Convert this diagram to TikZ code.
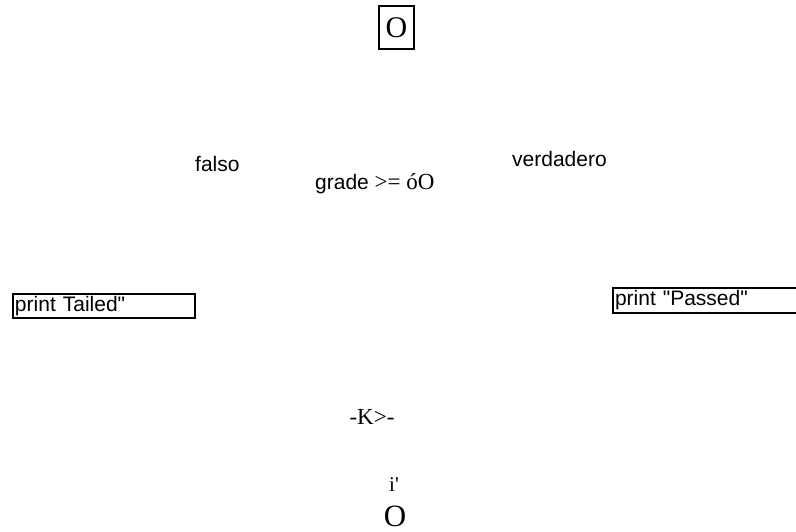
\documentclass[tikz,border=0pt]{standalone}
\usepackage{fontspec}
\setmainfont{Liberation Serif}
\newfontfamily\sansf{Liberation Sans}
\tikzset{
  x=1pt, y=-1pt,
  sanslbl/.style={font=\sansf\fontsize{21}{25}\selectfont, inner sep=0pt, anchor=base west},
  seriflbl/.style={font=\fontsize{23}{27}\selectfont, inner sep=0pt, anchor=base},
  printbox/.style={draw, line width=2pt, anchor=north west, inner xsep=1pt, inner ysep=0pt,
    align=left, font=\sansf\fontsize{21}{25}\selectfont},
}
\begin{document}
\begin{tikzpicture}
\useasboundingbox (0,0) rectangle (796,532);
% top terminal
\node[draw, line width=2pt, minimum width=35, minimum height=43, inner sep=0pt,
      anchor=north west, font=\fontsize{30}{34}\selectfont] (start) at (378,5) {O};
% labels
\node[sanslbl] (falso) at (195,172) {falso};
\node[sanslbl] (verdadero) at (512,167) {verdadero};
\node[sanslbl] (cond) at (315,190) {grade \rmfamily\fontsize{23}{27}\selectfont >= óO};
% boxes
\node[printbox, minimum width=182, minimum height=24, text width=178] (failed) at (12,293) {print Tailed"};
\node[printbox, minimum width=184, minimum height=25, text width=180] (passed) at (612,287) {print "Passed"};
% merge and end
\node[seriflbl] (merge) at (372,424) {-K>-};
\node[seriflbl, font=\fontsize{21}{25}\selectfont] (iq) at (394,491) {i\textquotesingle};
\node[seriflbl, font=\fontsize{31}{35}\selectfont] (stop) at (395,526) {O};
\end{tikzpicture}
\end{document}
